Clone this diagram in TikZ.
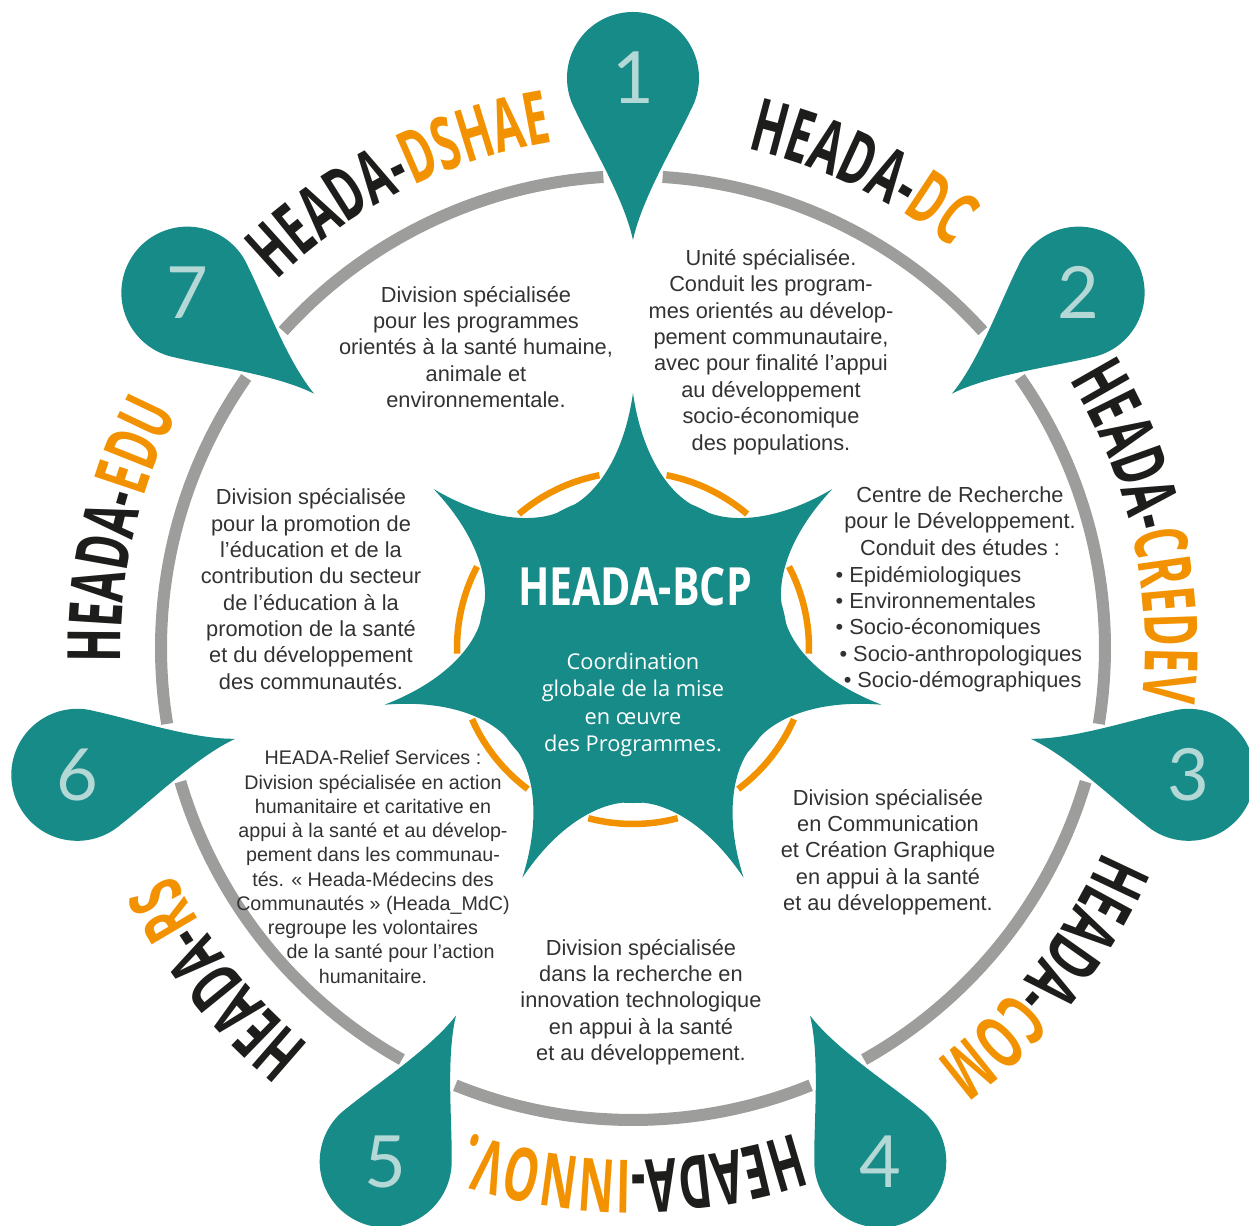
\documentclass[tikz,border=0pt]{standalone}
\usepackage{fontspec}
\setmainfont{Liberation Sans}
\newfontfamily\lblfont[FakeStretch=0.6]{Open Sans}
\newfontfamily\bcpfont[FakeStretch=0.78]{Open Sans}
\newfontfamily\midfont{Open Sans}
\newfontfamily\numfont{Lato}
\usetikzlibrary{decorations.text,positioning}
\definecolor{tealc}{RGB}{23,139,136}
\definecolor{orng}{RGB}{243,146,0}
\definecolor{ringgray}{RGB}{157,157,156}
\definecolor{numcol}{RGB}{180,216,214}
\definecolor{ink}{RGB}{29,29,27}
\definecolor{txtgray}{RGB}{50,50,50}
\newcommand\lblsize{\lblfont\bfseries\fontsize{21}{24}\selectfont}

\begin{document}
\begin{tikzpicture}[
    ring/.style={ringgray, line width=1.2mm},
    halo/.style={orng, line width=0.65mm},
    num/.style={text=numcol, font=\numfont\fontsize{20.5}{24}\selectfont, inner sep=0pt},
    desc/.style={text=txtgray, align=center, inner sep=0pt, font=\fontsize{6.2}{7.5}\selectfont},
    arclbl/.style={decorate, decoration={text along path, text align=center,
      text={|\lblsize\color{ink}|HEADA-|\lblsize\color{orng}|#1}}}
  ]
  \useasboundingbox (-6.33,-5.78) rectangle (6.16,6.48);

  % grey ring, cut where the pins come in
  \foreach \n in {1,...,7} {
    \pgfmathsetmacro\a{90-(\n-1)*360/7}
    \draw[ring] (\a-3.6:4.72) arc[start angle=\a-3.6, end angle=\a-47.83, radius=4.72];
  }

  % the seven pins
  \foreach \n in {1,...,7} {
    \pgfmathsetmacro\a{90-(\n-1)*360/7}
    \begin{scope}[shift={(\a:5.70)}, rotate=\a-90]
      \fill[tealc] (-28:0.66) arc[start angle=-28, end angle=208, radius=0.66]
        .. controls (-0.42,-0.66) and (-0.09,-1.2) .. (0,-1.62)
        .. controls (0.09,-1.2) and (0.42,-0.66) .. cycle;
    \end{scope}
    \node[num] (pin\n) at (\a:5.70) {\n};
  }

  % names round the ring
  \path[arclbl=DSHAE] (156.57:5.12) arc[start angle=156.57, end angle=76.57, radius=5.12];
  \path[arclbl=DC] (104.29:5.12) arc[start angle=104.29, end angle=24.29, radius=5.12];
  \path[arclbl=CREDEV] (52.86:5.12) arc[start angle=52.86, end angle=-27.14, radius=5.12];
  \path[arclbl=COM] (1.43:5.12) arc[start angle=1.43, end angle=-78.57, radius=5.12];
  \path[arclbl=INNOV.] (-50:5.12) arc[start angle=-50, end angle=-130, radius=5.12];
  \path[arclbl=RS] (-101.43:5.12) arc[start angle=-101.43, end angle=-181.43, radius=5.12];
  \path[arclbl=EDU] (-152.86:5.12) arc[start angle=-152.86, end angle=-232.86, radius=5.12];

  % star in the middle
  \fill[tealc] (0,0) circle (1.55);
  \foreach \n in {1,...,7} {
    \pgfmathsetmacro\a{90-(\n-1)*360/7}
    \fill[tealc] (\a-22:1.55) .. controls (\a-12:1.62) and (\a-2.5:1.95) .. (\a:2.55)
      .. controls (\a+2.5:1.95) and (\a+12:1.62) .. (\a+22:1.55) -- cycle;
    \draw[halo] (\a-11:1.76) arc[start angle=\a-11, end angle=\a-40.43, radius=1.76];
  }

  \node[text=white, inner sep=0pt, font=\bcpfont\bfseries\fontsize{15}{18}\selectfont] (bcp) at (0.02,0.61) {HEADA-BCP};
  \node[text=white, align=center, inner sep=0pt, font=\midfont\fontsize{6.2}{7.8}\selectfont] (coord) at (0,-0.57)
    {Coordination\\globale de la mise\\en œuvre\\des Programmes.};

  % what each division does
  \node[desc] (txtdshae) at (-1.57,3.01) {Division spécialisée\\pour les programmes\\orientés à la santé humaine,\\animale et\\environnementale.};
  \node[desc] (txtdc) at (1.38,2.96) {Unité spécialisée.\\Conduit les program-\\mes orientés au dévelop-\\pement communautaire,\\avec pour finalité l’appui\\au développement\\socio-économique\\des populations.};
  \node[desc] (txtcredev) at (3.27,1.27) {Centre de Recherche\\pour le Développement.\\Conduit des études :};
  \node[desc, align=left, anchor=west] (lstcredev) at (2.02,0.19) {• Epidémiologiques\\• Environnementales\\• Socio-économiques\\\hspace*{1.1pt}• Socio-anthropologiques\\\hspace*{2.3pt}• Socio-démographiques};
  \node[desc] (txtcom) at (2.55,-2.04) {Division spécialisée\\en Communication\\et Création Graphique\\en appui à la santé\\et au développement.};
  \node[desc] (txtinnov) at (0.08,-3.54) {Division spécialisée\\dans la recherche en\\innovation technologique\\en appui à la santé\\et au développement.};
  \node[desc, font=\fontsize{5.6}{6.9}\selectfont] (txtrs) at (-2.60,-2.19) {HEADA-Relief Services :\\Division spécialisée en action\\humanitaire et caritative en\\appui à la santé et au dévelop-\\pement dans les communau-\\tés. « Heada-Médecins des\\Communautés » (Heada\_MdC)\\regroupe les volontaires\\\hspace*{10pt}de la santé pour l’action\\humanitaire.};
  \node[desc] (txtedu) at (-3.22,0.59) {Division spécialisée\\pour la promotion de\\l’éducation et de la\\contribution du secteur\\de l’éducation à la\\promotion de la santé\\et du développement\\des communautés.};
\end{tikzpicture}
\end{document}
